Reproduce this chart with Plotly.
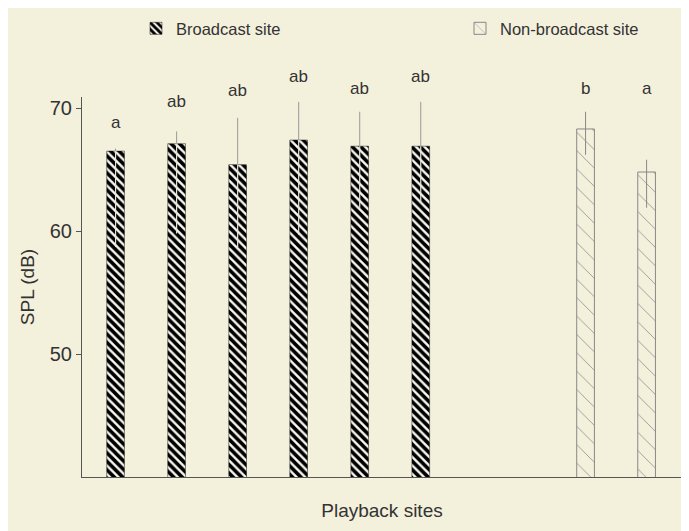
import plotly.graph_objects as go

#   Site positions along the x axis (gap between the two groups)
broadcast_x = [1, 2, 3, 4, 5, 6]
nonbroadcast_x = [8.7, 9.7]

#   Mean SPL (dB) with upper / lower error
broadcast_spl = [66.5, 67.1, 65.4, 67.4, 66.9, 66.9]
broadcast_err_up = [0.2, 1.0, 3.8, 3.1, 2.8, 3.6]
broadcast_err_down = [7.8, 7.3, 6.7, 7.7, 5.0, 4.6]
nonbroadcast_spl = [68.3, 64.8]
nonbroadcast_err_up = [1.4, 1.0]
nonbroadcast_err_down = [2.1, 2.9]

#   Significance letters and their heights (dB)
broadcast_letters = ["a", "ab", "ab", "ab", "ab", "ab"]
broadcast_letter_y = [68.8, 70.5, 71.4, 72.6, 71.6, 72.6]
nonbroadcast_letters = ["b", "a"]
nonbroadcast_letter_y = [71.6, 71.6]

y_min, y_max = 40, 70.9

bg = "#f3f0dc"
ink = "#333333"
font = "Liberation Sans, Arial, sans-serif"

fig = go.Figure()

fig.add_trace(go.Bar(
    x=broadcast_x, y=broadcast_spl, name="Broadcast site", width=0.29,
    legend="legend", showlegend=True,
    marker=dict(color="#fbfaf2", opacity=1, line=dict(color="#111", width=0.5),
                pattern=dict(shape="\\", fgcolor="#000000", bgcolor="#fbfaf2", fgopacity=1,
                             fillmode="replace", size=6, solidity=0.6)),
    error_y=dict(type="data", symmetric=False, array=broadcast_err_up,
                 arrayminus=[0] * 6, width=0, thickness=1, color="#999"),
))

fig.add_trace(go.Bar(
    x=nonbroadcast_x, y=nonbroadcast_spl, name="Non-broadcast site", width=0.29,
    legend="legend2", showlegend=True,
    marker=dict(color=bg, opacity=1, line=dict(color="#888", width=1),
                pattern=dict(shape="\\", fgcolor="#8a8a8a", bgcolor=bg, fgopacity=1,
                             fillmode="replace", size=13, solidity=0.06)),
    error_y=dict(type="data", symmetric=False, array=nonbroadcast_err_up,
                 arrayminus=[0] * 2, width=0, thickness=1, color="#888"),
))

#   Lower error whiskers, drawn inside the bars
fig.add_trace(go.Scatter(
    x=broadcast_x, y=broadcast_spl, mode="markers", marker=dict(size=1, opacity=0),
    showlegend=False, hoverinfo="skip",
    error_y=dict(type="data", symmetric=False, array=[0] * 6,
                 arrayminus=broadcast_err_down, width=0, thickness=1.2, color="#e8e6da"),
))
fig.add_trace(go.Scatter(
    x=nonbroadcast_x, y=nonbroadcast_spl, mode="markers", marker=dict(size=1, opacity=0),
    showlegend=False, hoverinfo="skip",
    error_y=dict(type="data", symmetric=False, array=[0] * 2,
                 arrayminus=nonbroadcast_err_down, width=0, thickness=1, color="#888"),
))

#   Letters above the bars (placed in paper units so they may sit above the axis)
for xs, ys, labels in [(broadcast_x, broadcast_letter_y, broadcast_letters),
                       (nonbroadcast_x, nonbroadcast_letter_y, nonbroadcast_letters)]:
    for x, y, t in zip(xs, ys, labels):
        fig.add_annotation(x=x, xref="x", y=(y - y_min) / (y_max - y_min), yref="paper",
                           yanchor="middle", text=t, showarrow=False,
                           font=dict(size=17, color=ink, family=font))

legend_style = dict(orientation="h", xanchor="left", y=1.18, yanchor="middle",
                    font=dict(size=16.5, color=ink), bgcolor="rgba(0,0,0,0)")

fig.update_layout(
    width=689, height=531,
    paper_bgcolor=bg, plot_bgcolor=bg,
    margin=dict(l=74, r=15, t=89, b=62, autoexpand=False),
    font=dict(family=font, color=ink, size=14),
    barmode="overlay",
    showlegend=True,
    legend=dict(x=0.09, **legend_style),
    legend2=dict(x=0.63, **legend_style),
    xaxis=dict(range=[0.45, 10.28], showgrid=False, zeroline=False, showticklabels=False,
               showline=True, linecolor="#555", linewidth=1,
               title=dict(text="Playback sites", font=dict(size=19), standoff=26)),
    yaxis=dict(range=[y_min, y_max], tickvals=[50, 60, 70], showgrid=False, zeroline=False,
               showline=True, linecolor="#555", linewidth=1,
               ticks="outside", ticklen=5, tickcolor="#555",
               tickfont=dict(size=20),
               title=dict(text="SPL (dB)", font=dict(size=19), standoff=10)),
)

fig.write_html("out.html")
